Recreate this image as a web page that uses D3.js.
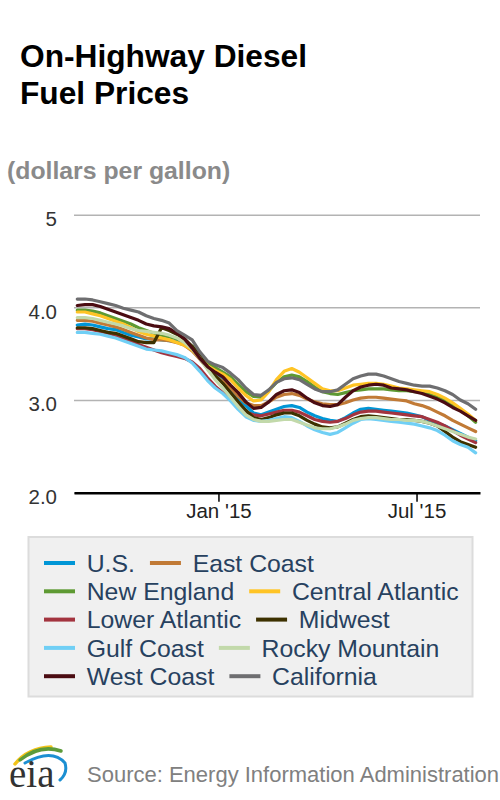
<!DOCTYPE html>
<html>
<head>
<meta charset="utf-8">
<title>On-Highway Diesel Fuel Prices</title>
<style>
  html, body {
    margin: 0;
    padding: 0;
    background: #fff;
  }
  svg {
    display: block;
    font-family: "Liberation Sans", Arial, sans-serif;
  }
  .grid line {
    stroke: #b3b3b3;
    stroke-width: 1.5px;
  }
  .series {
    fill: none;
    stroke-width: 3.2px;
    stroke-linejoin: round;
    stroke-linecap: round;
  }
</style>
</head>
<body>
<svg></svg>

<script src="https://cdnjs.cloudflare.com/ajax/libs/d3/7.8.5/d3.min.js"></script>
<script>
  // weekly prices, Aug 25 2014 .. Aug 24 2015 (dollars per gallon)
  const firstWeek = new Date(2014, 7, 25);

  const usPrices = [3.81,3.82,3.81,3.79,3.77,3.76,3.73,3.70,3.68,3.66,
    3.66,3.65,3.64,3.63,3.61,3.56,3.48,3.38,3.29,3.21,
    3.12,3.02,2.94,2.86,2.84,2.87,2.90,2.93,2.94,2.92,
    2.87,2.83,2.80,2.78,2.77,2.81,2.86,2.90,2.91,2.90,
    2.89,2.88,2.87,2.86,2.84,2.82,2.78,2.75,2.72,2.68,
    2.64,2.60,2.56];
  const eastCoast = [3.86,3.86,3.85,3.83,3.81,3.79,3.76,3.73,3.70,3.67,
    3.65,3.65,3.64,3.62,3.59,3.53,3.44,3.34,3.26,3.20,
    3.13,3.04,2.97,2.94,2.94,2.98,3.03,3.06,3.07,3.05,
    3.01,2.98,2.96,2.95,2.95,2.97,3.00,3.02,3.03,3.03,
    3.02,3.01,3.00,2.99,2.96,2.94,2.91,2.87,2.83,2.78,
    2.74,2.70,2.66];
  const newEngland = [3.97,3.97,3.96,3.94,3.91,3.88,3.85,3.82,3.78,3.75,
    3.72,3.70,3.68,3.66,3.63,3.58,3.50,3.41,3.35,3.30,
    3.25,3.17,3.09,3.04,3.03,3.10,3.19,3.25,3.27,3.25,
    3.20,3.14,3.09,3.07,3.06,3.08,3.10,3.11,3.12,3.12,
    3.12,3.11,3.10,3.10,3.09,3.08,3.06,3.03,2.99,2.94,
    2.89,2.83,2.76];
  const centralAtlantic = [3.95,3.95,3.93,3.91,3.88,3.85,3.82,3.78,3.74,3.71,
    3.69,3.67,3.65,3.62,3.59,3.54,3.46,3.37,3.32,3.28,
    3.22,3.13,3.05,2.99,3.00,3.09,3.22,3.31,3.34,3.30,
    3.24,3.18,3.12,3.10,3.10,3.13,3.16,3.17,3.18,3.18,
    3.17,3.15,3.13,3.12,3.11,3.10,3.09,3.06,3.02,2.97,
    2.91,2.85,2.78];
  const lowerAtlantic = [3.77,3.77,3.76,3.74,3.72,3.70,3.67,3.63,3.60,3.57,
    3.54,3.51,3.49,3.47,3.45,3.41,3.34,3.24,3.15,3.08,
    3.01,2.93,2.87,2.84,2.83,2.85,2.87,2.89,2.89,2.87,
    2.83,2.79,2.77,2.76,2.77,2.80,2.84,2.87,2.88,2.88,
    2.87,2.86,2.85,2.84,2.83,2.82,2.79,2.76,2.72,2.67,
    2.62,2.58,2.54];
  const midwest = [3.78,3.78,3.77,3.75,3.73,3.72,3.69,3.66,3.63,3.62,
    3.62,3.78,3.75,3.71,3.66,3.58,3.47,3.36,3.26,3.18,
    3.08,2.98,2.89,2.81,2.79,2.81,2.84,2.86,2.86,2.83,
    2.78,2.74,2.71,2.70,2.71,2.75,2.79,2.82,2.83,2.82,
    2.81,2.80,2.79,2.79,2.78,2.77,2.75,2.72,2.66,2.60,
    2.55,2.52,2.49];
  const gulfCoast = [3.73,3.73,3.72,3.71,3.69,3.67,3.64,3.61,3.58,3.55,
    3.54,3.53,3.51,3.49,3.46,3.40,3.31,3.21,3.13,3.07,
    2.99,2.90,2.82,2.78,2.77,2.78,2.80,2.82,2.81,2.77,
    2.72,2.68,2.65,2.63,2.65,2.70,2.75,2.79,2.80,2.79,
    2.78,2.77,2.76,2.75,2.74,2.72,2.70,2.67,2.62,2.56,
    2.52,2.49,2.43];
  const rockyMountain = [3.89,3.89,3.88,3.86,3.84,3.82,3.80,3.77,3.75,3.74,
    3.73,3.72,3.70,3.67,3.62,3.55,3.45,3.33,3.22,3.13,
    3.03,2.93,2.84,2.79,2.77,2.77,2.78,2.79,2.79,2.76,
    2.73,2.70,2.69,2.69,2.71,2.74,2.78,2.80,2.81,2.81,
    2.80,2.79,2.79,2.78,2.78,2.77,2.75,2.72,2.69,2.66,
    2.63,2.60,2.58];
  const westCoast = [4.02,4.03,4.03,4.01,3.98,3.95,3.92,3.89,3.86,3.82,
    3.80,3.79,3.77,3.72,3.66,3.56,3.45,3.36,3.30,3.25,
    3.16,3.08,2.98,2.91,2.92,2.98,3.06,3.10,3.11,3.08,
    3.02,2.97,2.94,2.93,2.95,3.03,3.10,3.14,3.16,3.17,
    3.16,3.13,3.12,3.11,3.09,3.07,3.04,3.01,2.97,2.92,
    2.88,2.83,2.78];
  const california = [4.09,4.09,4.08,4.06,4.04,4.02,3.99,3.97,3.95,3.91,
    3.88,3.86,3.83,3.75,3.70,3.65,3.52,3.42,3.38,3.35,
    3.29,3.22,3.13,3.06,3.05,3.11,3.19,3.23,3.24,3.22,
    3.17,3.12,3.09,3.09,3.11,3.17,3.23,3.26,3.28,3.28,
    3.26,3.23,3.20,3.18,3.16,3.15,3.15,3.13,3.10,3.06,
    3.00,2.96,2.90];

  const seriesNames = ["U.S.", "East Coast", "New England", "Central Atlantic",
    "Lower Atlantic", "Midwest", "Gulf Coast", "Rocky Mountain", "West Coast", "California"];
  const seriesColors = ["#0096d6", "#c17a36", "#5e9a33", "#ffc425", "#a3343f",
    "#3d3100", "#70cff5", "#c2d9aa", "#4b0c12", "#6e6e70"];
  const seriesValues = [usPrices, eastCoast, newEngland, centralAtlantic, lowerAtlantic,
    midwest, gulfCoast, rockyMountain, westCoast, california];

  const yTicks = [2, 3, 4, 5];
  const yTickLabels = ["2.0", "3.0", "4.0", "5"];
  const xTicks = [new Date(2015, 0, 1), new Date(2015, 6, 1)];
  const xTickLabels = ["Jan '15", "Jul '15"];

  const width = 500, height = 800;
  const svg = d3.select("svg").attr("width", width).attr("height", height);

  const x = d3.scaleTime()
    .domain([new Date(2014, 7, 22), new Date(2015, 7, 28)])
    .range([74, 480]);
  const y = d3.scaleLinear().domain([2, 5]).range([492.7, 214.7]);

  // titles
  const title = svg.append("text")
    .attr("x", 20).attr("y", 66.5)
    .attr("font-size", 31.7).attr("font-weight", "bold").attr("fill", "#000");
  title.append("tspan").attr("x", 20).text("On-Highway Diesel");
  title.append("tspan").attr("x", 20).attr("dy", 37.5).text("Fuel Prices");

  svg.append("text")
    .attr("x", 7).attr("y", 179)
    .attr("font-size", 24.8).attr("font-weight", "bold").attr("fill", "#8a8a8a")
    .text("(dollars per gallon)");

  // gridlines + y labels
  const yAxis = svg.append("g")
    .attr("class", "grid")
    .attr("transform", "translate(74,0)")
    .call(d3.axisLeft(y)
      .tickValues(yTicks)
      .tickSize(-406)
      .tickPadding(17)
      .tickFormat((d, i) => yTickLabels[i]));
  yAxis.select(".domain").remove();
  yAxis.selectAll("text")
    .attr("font-size", 20.5).attr("fill", "#333").attr("dy", "0.52em")
    .attr("font-family", "Liberation Sans, Arial, sans-serif");

  // series lines
  const line = d3.line()
    .x((d, i) => x(d3.timeWeek.offset(firstWeek, i)))
    .y(d => y(d));

  svg.append("g").selectAll("path")
    .data(seriesValues)
    .join("path")
    .attr("class", "series")
    .attr("stroke", (d, i) => seriesColors[i])
    .attr("d", d => line(d));

  // x axis
  const xAxis = svg.append("g")
    .attr("transform", `translate(0,${y(2)})`)
    .call(d3.axisBottom(x)
      .tickValues(xTicks)
      .tickSize(9)
      .tickSizeOuter(0)
      .tickPadding(2)
      .tickFormat((d, i) => xTickLabels[i]));
  xAxis.select(".domain").attr("stroke", "#000").attr("stroke-width", 2.5);
  xAxis.selectAll(".tick line").attr("stroke", "#000").attr("stroke-width", 1.5);
  xAxis.selectAll("text")
    .attr("font-size", 20.5).attr("fill", "#222")
    .attr("font-family", "Liberation Sans, Arial, sans-serif");

  // legend
  const legend = svg.append("g");
  legend.append("rect")
    .attr("x", 28.5).attr("y", 537)
    .attr("width", 444).attr("height", 159.5)
    .attr("fill", "#f0f0f0").attr("stroke", "#dcdcdc").attr("stroke-width", 2);

  const rowY = d => 563 + d * 28.3;
  for (let r = 0; r < seriesNames.length / 2; r++) {
    let cx = 44;
    for (let c = 0; c < 2; c++) {
      const k = r * 2 + c;
      legend.append("line")
        .attr("x1", cx).attr("x2", cx + 31)
        .attr("y1", rowY(r)).attr("y2", rowY(r))
        .attr("stroke", seriesColors[k]).attr("stroke-width", 4);
      const t = legend.append("text")
        .attr("x", cx + 42.7).attr("y", rowY(r)).attr("dy", "0.35em")
        .attr("font-size", 24.8).attr("fill", "#27415f")
        .text(seriesNames[k]);
      cx = cx + 42.7 + t.node().getComputedTextLength() + 15;
    }
  }

  // footer: eia logo + source
  const logo = svg.append("g");
  logo.append("path")
    .attr("d", "M15,764 Q28,748 51,747")
    .attr("fill", "none").attr("stroke", "#f2c318").attr("stroke-width", 3.5).attr("stroke-linecap", "round");
  logo.append("path")
    .attr("d", "M20,760 Q40,744 61,751")
    .attr("fill", "none").attr("stroke", "#5d9b3a").attr("stroke-width", 3.5).attr("stroke-linecap", "round");
  logo.append("path")
    .attr("d", "M25,763 Q52,748 65,763 Q68,773 60,780")
    .attr("fill", "none").attr("stroke", "#1c8fd2").attr("stroke-width", 3).attr("stroke-linecap", "round");
  logo.append("text")
    .attr("x", 9).attr("y", 787)
    .attr("font-family", "Liberation Serif, 'DejaVu Serif', serif")
    .attr("font-size", 39).attr("fill", "#333")
    .text("eia");

  svg.append("text")
    .attr("x", 87).attr("y", 781.5)
    .attr("font-size", 22).attr("fill", "#808080")
    .text("Source: Energy Information Administration");
</script>
</body>
</html>
